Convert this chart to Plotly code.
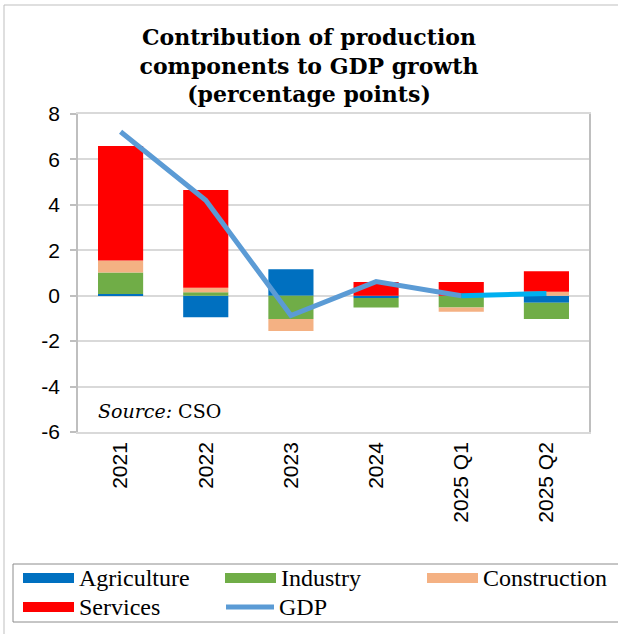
import plotly.graph_objects as go

# Periods on the horizontal axis
periods = ["2021", "2022", "2023", "2024", "2025 Q1", "2025 Q2"]

# Contributions to GDP growth, percentage points
agriculture = [0.07, -0.95, 1.16, -0.10, 0.00, -0.31]
industry = [0.95, 0.15, -1.03, -0.42, -0.52, -0.71]
construction = [0.53, 0.20, -0.52, 0.00, -0.19, 0.18]
services = [5.04, 4.30, 0.00, 0.60, 0.60, 0.90]
gdp = [7.22, 4.20, -0.87, 0.62, 0.00, 0.10]

# Vertical axis ticks
y_tick_values = [-6, -4, -2, 0, 2, 4, 6, 8]
y_tick_labels = ["-6", "-4", "-2", "0", "2", "4", "6", "8"]

series_names = ["Agriculture", "Industry", "Construction", "Services"]
series_values = [agriculture, industry, construction, services]
series_colors = ["#0070C0", "#70AD47", "#F4B183", "#FF0000"]
gdp_color = "#5B9BD5"
gdp_latest_color = "#00B0F0"

W, H = 618, 634
M_L, M_R, M_T, M_B = 78, 29, 114, 202
PW, PH = W - M_L - M_R, H - M_T - M_B


def px_x(x):
    return (x - M_L) / PW


def px_y(y):
    return (H - M_B - y) / PH


fig = go.Figure()

for name, vals, col in zip(series_names, series_values, series_colors):
    fig.add_trace(go.Bar(
        x=periods, y=vals, name=name, marker_color=col,
        marker_line_width=0, showlegend=False,
    ))

# GDP line; the most recent quarter-on-quarter segment is highlighted
fig.add_trace(go.Scatter(
    x=periods[:5], y=gdp[:5], mode="lines", name="GDP",
    line=dict(color=gdp_color, width=5), showlegend=False,
))
fig.add_trace(go.Scatter(
    x=periods[4:], y=gdp[4:], mode="lines", name="GDP",
    line=dict(color=gdp_latest_color, width=5), showlegend=False,
))

tick_font = dict(family="Liberation Sans, Arial, sans-serif", size=21, color="#000000")

fig.update_layout(
    width=W, height=H,
    margin=dict(l=M_L, r=M_R, t=M_T, b=M_B),
    paper_bgcolor="white", plot_bgcolor="white",
    barmode="relative", bargap=0.47,
    title=dict(
        text="<b>Contribution of production<br>components to GDP growth<br>(percentage points)</b>",
        x=0.5, xref="container", xanchor="center",
        y=(H - 45) / H, yref="container", yanchor="top",
        font=dict(family="DejaVu Serif, serif", size=22, color="#000000"),
    ),
    xaxis=dict(
        type="category", categoryorder="array", categoryarray=periods,
        range=[-0.5, 5.5],
        tickangle=-90, tickfont=tick_font, ticks="",
        showline=True, linecolor="#D9D9D9", linewidth=1.5, mirror=True,
        showgrid=False, zeroline=False,
    ),
    xaxis2=dict(
        overlaying="x", anchor="free", position=6 / 14,
        range=[-0.5, 5.5], tickmode="array",
        tickvals=[i - 0.5 for i in range(len(periods) + 1)],
        ticks="outside", ticklen=5, tickcolor="#BFBFBF", tickwidth=1.5,
        showticklabels=False, showline=True, linecolor="#BFBFBF", linewidth=1.5,
        showgrid=False, zeroline=False,
    ),
    yaxis=dict(
        range=[-6, 8], tickmode="array",
        tickvals=y_tick_values, ticktext=y_tick_labels,
        tickfont=tick_font, ticks="outside", ticklen=6,
        tickcolor="#BFBFBF", tickwidth=1.5, ticklabelstandoff=6,
        showline=True, linecolor="#BFBFBF", linewidth=1.5, mirror=True,
        showgrid=True, gridcolor="#D9D9D9", gridwidth=1.5,
        zeroline=False,
    ),
    showlegend=False,
)

shapes = []
annotations = []

# Outer chart frame
shapes.append(dict(type="rect", xref="paper", yref="paper",
                   x0=px_x(4), x1=px_x(660), y0=px_y(5), y1=px_y(680),
                   line=dict(color="#BFBFBF", width=1), layer="below"))

# Legend frame
shapes.append(dict(type="rect", xref="paper", yref="paper",
                   x0=px_x(13), x1=px_x(660), y0=px_y(564), y1=px_y(622),
                   line=dict(color="#8C8C8C", width=1)))

legend_font = dict(family="Liberation Serif, Times New Roman, serif", size=24, color="#000000")
legend_slots = [(23, 578), (225, 578), (427, 578), (23, 607)]
for name, col, (lx, ly) in zip(series_names, series_colors, legend_slots):
    shapes.append(dict(type="rect", xref="paper", yref="paper",
                       x0=px_x(lx), x1=px_x(lx + 51),
                       y0=px_y(ly - 5), y1=px_y(ly + 5),
                       fillcolor=col, line=dict(width=0)))
    annotations.append(dict(text=name, xref="paper", yref="paper",
                            x=px_x(lx + 54), y=px_y(ly), xanchor="left",
                            yanchor="middle", showarrow=False, font=legend_font))

# GDP legend entry
gx, gy = 226, 607
shapes.append(dict(type="line", xref="paper", yref="paper",
                   x0=px_x(gx), x1=px_x(gx + 48), y0=px_y(gy), y1=px_y(gy),
                   line=dict(color=gdp_color, width=5)))
annotations.append(dict(text="GDP", xref="paper", yref="paper",
                        x=px_x(gx + 51), y=px_y(gy), xanchor="left",
                        yanchor="middle", showarrow=False, font=legend_font))

# Source note inside the plot area
annotations.append(dict(text="<i>Source:</i> CSO", xref="paper", yref="paper",
                        x=px_x(96), y=px_y(411), xanchor="left", yanchor="middle",
                        showarrow=False,
                        font=dict(family="DejaVu Serif, serif", size=19, color="#000000")))

fig.update_layout(shapes=shapes, annotations=annotations)

fig.write_html("out.html")
